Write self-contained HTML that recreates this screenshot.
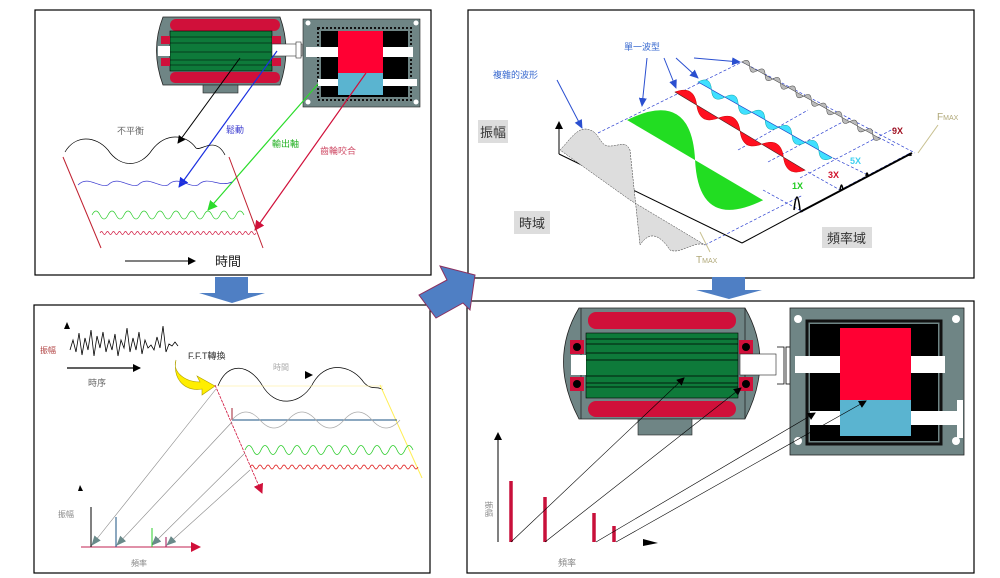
<!DOCTYPE html>
<html><head><meta charset="utf-8"><style>
html,body{margin:0;padding:0;background:#fff;}
svg{display:block;}
text{font-family:"Liberation Sans","Noto Sans CJK TC",sans-serif;}
</style></head><body>
<svg width="1000" height="578" viewBox="0 0 1000 578" xmlns="http://www.w3.org/2000/svg">
<defs>
<marker id="ak" markerWidth="8" markerHeight="8" refX="7" refY="4" orient="auto" markerUnits="userSpaceOnUse"><path d="M0,0 L8,4 L0,8z" fill="#000"/></marker>
<marker id="ab" markerWidth="10" markerHeight="10" refX="9" refY="5" orient="auto" markerUnits="userSpaceOnUse"><path d="M0,0 L10,5 L0,10z" fill="#1a2fe0"/></marker>
<marker id="ag" markerWidth="10" markerHeight="10" refX="9" refY="5" orient="auto" markerUnits="userSpaceOnUse"><path d="M0,0 L10,5 L0,10z" fill="#2bdc2b"/></marker>
<marker id="ar" markerWidth="10" markerHeight="10" refX="9" refY="5" orient="auto" markerUnits="userSpaceOnUse"><path d="M0,0 L10,5 L0,10z" fill="#d0103a"/></marker>
<marker id="agr" markerWidth="10" markerHeight="8" refX="9" refY="4" orient="auto" markerUnits="userSpaceOnUse"><path d="M0,0 L10,4 L0,8z" fill="#6a8a8a"/></marker>
<marker id="abl" markerWidth="9" markerHeight="8" refX="8" refY="4" orient="auto" markerUnits="userSpaceOnUse"><path d="M0,0 L9,4 L0,8z" fill="#2a4fd0"/></marker>
</defs>

<rect x="35" y="10" width="396" height="265" fill="#fff" stroke="#000" stroke-width="1.2"/>
<rect x="468" y="10" width="506" height="268" fill="#fff" stroke="#000" stroke-width="1.2"/>
<rect x="34" y="305" width="396" height="268" fill="#fff" stroke="#000" stroke-width="1.2"/>
<rect x="467" y="301" width="507" height="272" fill="#fff" stroke="#000" stroke-width="1.2"/>

<polygon points="215,277 248,277 248,293 265,293 232,303 199,293 215,293" fill="#4f7fc4"/>
<polygon points="712,277 745,277 745,290 762,290 729,299 696,290 712,290" fill="#4f7fc4"/>
<polygon points="440,266 475,275 470,310 463,303 436,318 419,295 447,280" fill="#4f7fc4" stroke="#8a3060" stroke-width="1"/>

<!-- ===== Panel 1 ===== -->
<g>
<path d="M163,17 L280,17 Q292,50 280,85 L163,85 Q150,50 163,17z" fill="#6f8585" stroke="#222" stroke-width="0.8"/>
<rect x="203" y="85" width="35" height="8" fill="#6f8585" stroke="#222" stroke-width="0.6"/>
<rect x="170" y="19" width="110" height="12" rx="6" fill="#d0103a"/>
<rect x="170" y="72" width="110" height="11" rx="5" fill="#d0103a"/>
<rect x="170" y="31" width="102" height="40" fill="#0e7a3a" stroke="#000" stroke-width="0.6"/>
<g stroke="#000" stroke-width="0.6"><line x1="170" y1="37" x2="272" y2="37"/><line x1="170" y1="43" x2="272" y2="43"/><line x1="170" y1="52" x2="272" y2="52"/><line x1="170" y1="60" x2="272" y2="60"/><line x1="170" y1="65" x2="272" y2="65"/></g>
<rect x="161" y="36" width="9" height="8" fill="#d0103a"/><rect x="161" y="58" width="9" height="8" fill="#d0103a"/>
<rect x="272" y="36" width="9" height="8" fill="#d0103a"/><rect x="272" y="58" width="9" height="8" fill="#d0103a"/>
<rect x="158" y="46" width="12" height="10" fill="#fff"/>
<rect x="272" y="44" width="30" height="12" fill="#fff" stroke="#333" stroke-width="0.6"/>
<rect x="296" y="42" width="5" height="16" fill="#fff" stroke="#333" stroke-width="0.6"/>
<rect x="303" y="19" width="117" height="88" fill="#6f8585" stroke="#222" stroke-width="0.6"/>
<rect x="318" y="28" width="93" height="72" fill="none" stroke="#111" stroke-width="2" stroke-dasharray="2,2"/>
<rect x="321" y="31" width="87" height="66" fill="#000"/>
<rect x="338" y="31" width="45" height="42" fill="#ff0033"/>
<rect x="338" y="73" width="45" height="22" fill="#5ab4d0"/>
<rect x="306" y="47" width="32" height="10" fill="#fff"/>
<rect x="383" y="47" width="30" height="10" fill="#fff"/>
<rect x="318" y="79" width="20" height="7" fill="#fff"/>
<rect x="383" y="79" width="34" height="7" fill="#fff"/>
<circle cx="308" cy="23" r="2.5" fill="#fff"/><circle cx="416" cy="23" r="2.5" fill="#fff"/><circle cx="308" cy="102" r="2.5" fill="#fff"/><circle cx="416" cy="102" r="2.5" fill="#fff"/>
</g>
<line x1="240" y1="58" x2="178" y2="143" stroke="#000" stroke-width="1" marker-end="url(#ak)"/>
<line x1="277" y1="51" x2="179" y2="187" stroke="#1a2fe0" stroke-width="1.2" marker-end="url(#ab)"/>
<line x1="318" y1="84" x2="208" y2="210" stroke="#2bdc2b" stroke-width="1.2" marker-end="url(#ag)"/>
<line x1="366" y1="73" x2="255" y2="230" stroke="#d0103a" stroke-width="1.2" marker-end="url(#ar)"/>
<text x="117" y="134" font-size="9" fill="#666">不平衡</text>
<text x="226" y="133" font-size="9" fill="#3b3bd0">鬆動</text>
<text x="272" y="147" font-size="9" fill="#22b022">輸出軸</text>
<text x="320" y="154" font-size="9" fill="#d0506a">齒輪咬合</text>
<path d="M65,152 C75,135 95,135 108,150 C120,168 140,168 152,150 C165,133 185,133 196,148 C200,152 215,135 225,155" fill="none" stroke="#000" stroke-width="0.7"/>
<path d="M78,185 C88,175 98,188 108,185 C118,175 128,188 138,185 C148,175 158,188 168,185 C178,175 188,188 198,185 C208,175 218,188 232,182" fill="none" stroke="#3b3bd0" stroke-width="0.7"/>
<path d="M92,215 q4,-8 8,0 q4,8 8,0 q4,-8 8,0 q4,8 8,0 q4,-8 8,0 q4,8 8,0 q4,-8 8,0 q4,8 8,0 q4,-8 8,0 q4,8 8,0 q4,-8 8,0 q4,8 8,0 q4,-8 8,0 q4,8 8,0 q4,-8 8,0 q4,8 8,0 q4,-8 8,0 q4,8 8,0 q4,-8 8,0" fill="none" stroke="#2bcc2b" stroke-width="0.7"/>
<path d="M100,233 q1.5,-3 3,0 q1.5,3 3,0 q1.5,-3 3,0 q1.5,3 3,0 q1.5,-3 3,0 q1.5,3 3,0 q1.5,-3 3,0 q1.5,3 3,0 q1.5,-3 3,0 q1.5,3 3,0 q1.5,-3 3,0 q1.5,3 3,0 q1.5,-3 3,0 q1.5,3 3,0 q1.5,-3 3,0 q1.5,3 3,0 q1.5,-3 3,0 q1.5,3 3,0 q1.5,-3 3,0 q1.5,3 3,0 q1.5,-3 3,0 q1.5,3 3,0 q1.5,-3 3,0 q1.5,3 3,0 q1.5,-3 3,0 q1.5,3 3,0 q1.5,-3 3,0 q1.5,3 3,0 q1.5,-3 3,0 q1.5,3 3,0 q1.5,-3 3,0 q1.5,3 3,0 q1.5,-3 3,0 q1.5,3 3,0 q1.5,-3 3,0 q1.5,3 3,0 q1.5,-3 3,0 q1.5,3 3,0 q1.5,-3 3,0 q1.5,3 3,0 q1.5,-3 3,0 q1.5,3 3,0 q1.5,-3 3,0 q1.5,3 3,0 q1.5,-3 3,0 q1.5,3 3,0 q1.5,-3 3,0 q1.5,3 3,0 q1.5,-3 3,0 q1.5,3 3,0 q1.5,-3 3,0 q1.5,3 3,0" fill="none" stroke="#d0103a" stroke-width="0.7"/>
<line x1="63" y1="157" x2="101" y2="248" stroke="#c02030" stroke-width="1"/>
<line x1="229" y1="157" x2="263" y2="248" stroke="#c02030" stroke-width="1"/>
<line x1="125" y1="261" x2="195" y2="261" stroke="#000" stroke-width="1" marker-end="url(#ak)"/>
<text x="215" y="266" font-size="13" fill="#222">時間</text>

<!-- ===== Panel 2 ===== -->
<rect x="478" y="120" width="30" height="23" fill="#ddd"/><text x="480" y="137" font-size="13" fill="#333">振幅</text>
<rect x="514" y="211" width="36" height="23" fill="#ddd"/><text x="519" y="228" font-size="13" fill="#333">時域</text>
<rect x="822" y="227" width="50" height="21" fill="#ddd"/><text x="827" y="243" font-size="13" fill="#333">頻率域</text>
<g stroke="#2a3fd0" stroke-width="0.7" stroke-dasharray="3,2" fill="none">
<line x1="598" y1="133" x2="742" y2="62"/>
<line x1="742" y1="62" x2="915" y2="153"/>
<line x1="763" y1="190" x2="803" y2="212"/>
<line x1="808" y1="172" x2="840" y2="190"/>
<line x1="833" y1="158" x2="868" y2="175"/>
<line x1="878" y1="137" x2="895" y2="146"/>
<line x1="705" y1="245" x2="803" y2="195"/>
<line x1="738" y1="150" x2="808" y2="110"/>
<line x1="768" y1="162" x2="850" y2="118"/>
<line x1="800" y1="178" x2="895" y2="128"/>
<line x1="840" y1="190" x2="910" y2="153"/>
</g>
<line x1="559" y1="154" x2="559" y2="122" stroke="#000" stroke-width="1" marker-end="url(#ak)"/>
<line x1="559" y1="154" x2="742" y2="243" stroke="#000" stroke-width="1"/>
<line x1="742" y1="243" x2="800" y2="212" stroke="#000" stroke-width="1"/>
<path d="M560,150 C570,140 578,125 590,130 C600,133 600,147 610,146 C620,146 625,140 630,150 L640,245 C650,230 660,235 670,250 C680,255 695,240 705,245 L630,200 L560,150z" fill="#ddd" stroke="#333" stroke-width="0.5" stroke-dasharray="2,1"/>
<!-- green -->
<g transform="translate(627,120) rotate(30.5)">
<path d="M0,0 q39.5,-60 79,0 q39.5,60 79,0 z" fill="#22dd22"/>
</g>
<!-- red -->
<g transform="translate(675,92) rotate(31)">
<path d="M0,0 q12.7,-16 25.3,0 q12.7,16 25.3,0 q12.7,-16 25.3,0 q12.7,16 25.3,0 q12.7,-16 25.3,0 q12.7,16 25.3,0 z" fill="#ff1020" stroke="#c00" stroke-width="0.5"/>
<line x1="0" y1="0" x2="152" y2="0" stroke="#333" stroke-width="0.5"/>
</g>
<!-- cyan -->
<g transform="translate(698,82) rotate(29.4)">
<path d="M0,0 q7.7,-12 15.4,0 q7.7,12 15.4,0 q7.7,-12 15.4,0 q7.7,12 15.4,0 q7.7,-12 15.4,0 q7.7,12 15.4,0 q7.7,-12 15.4,0 q7.7,12 15.4,0 q7.7,-12 15.4,0 q7.7,12 15.4,0 z" fill="#40e0ff" stroke="#1aa" stroke-width="0.5"/>
<line x1="0" y1="0" x2="154" y2="0" stroke="#2a3fd0" stroke-width="0.6"/>
</g>
<!-- gray -->
<g transform="translate(742,62) rotate(29)">
<path d="M0,0 q4.4,-8 8.8,0 q4.4,8 8.8,0 q4.4,-8 8.8,0 q4.4,8 8.8,0 q4.4,-8 8.8,0 q4.4,8 8.8,0 q4.4,-8 8.8,0 q4.4,8 8.8,0 q4.4,-8 8.8,0 q4.4,8 8.8,0 q4.4,-8 8.8,0 q4.4,8 8.8,0 q4.4,-8 8.8,0 q4.4,8 8.8,0 q4.4,-8 8.8,0 q4.4,8 8.8,0 q4.4,-8 8.8,0 q4.4,8 8.8,0 z" fill="#bbb" stroke="#444" stroke-width="0.5"/>
</g>
<path d="M800,212 L912,153" stroke="#000" stroke-width="2" fill="none"/>
<path d="M794,210 q3,-26 6,0" fill="none" stroke="#000" stroke-width="1.5"/>
<path d="M840,190 q1.5,-10 3,0" fill="none" stroke="#000" stroke-width="1.5"/>
<path d="M866,176 q1,-6 2,0" fill="none" stroke="#000" stroke-width="1.5"/>
<path d="M909,156 q1,-5 2,0" fill="none" stroke="#000" stroke-width="1.5"/>
<text x="493" y="78" font-size="9" fill="#3b6bd0">複雜的波形</text>
<text x="624" y="50" font-size="9" fill="#3b6bd0">單一波型</text>
<g stroke="#2a4fd0" stroke-width="1" fill="none">
<line x1="557" y1="80" x2="582" y2="128" marker-end="url(#abl)"/>
<line x1="647" y1="58" x2="642" y2="106" marker-end="url(#abl)"/>
<line x1="664" y1="58" x2="676" y2="88" marker-end="url(#abl)"/>
<line x1="676" y1="58" x2="698" y2="78" marker-end="url(#abl)"/>
<line x1="694" y1="58" x2="740" y2="62" marker-end="url(#abl)"/>
</g>
<line x1="700" y1="232" x2="710" y2="252" stroke="#c8c090" stroke-width="1"/>
<line x1="918" y1="153" x2="938" y2="125" stroke="#c8c090" stroke-width="1"/>
<text x="696" y="263" font-size="10" fill="#b0a878" font-family="Liberation Serif">T<tspan font-size="7">MAX</tspan></text>
<text x="937" y="120" font-size="10" fill="#b0a878" font-family="Liberation Serif">F<tspan font-size="7">MAX</tspan></text>
<text x="792" y="189" font-size="9" font-weight="bold" fill="#22cc22">1X</text>
<text x="828" y="178" font-size="9" font-weight="bold" fill="#d0102a">3X</text>
<text x="850" y="164" font-size="9" font-weight="bold" fill="#40d0f0">5X</text>
<text x="892" y="134" font-size="9" font-weight="bold" fill="#a01020">9X</text>

<!-- ===== Panel 3 ===== -->
<polyline points="70,350 73,340 76,352 79,333 82,355 85,338 88,350 91,330 94,356 97,336 100,348 103,332 106,352 109,340 112,350 115,334 118,356 121,340 124,348 127,328 130,352 133,338 136,350 139,332 142,354 145,340 148,348 151,345 154,350 157,337 160,348 163,326 166,352 169,344 172,346 175,342 178,346" fill="none" stroke="#000" stroke-width="0.8"/>
<polygon points="67,322 64,329 70,329" fill="#000"/>
<text x="40" y="353" font-size="8" fill="#b04040">振幅</text>
<line x1="67" y1="368" x2="140" y2="368" stroke="#000" stroke-width="1.2" marker-end="url(#ak)"/>
<text x="88" y="386" font-size="9" fill="#666">時序</text>
<text x="188" y="359" font-size="9" fill="#333">F.F.T轉換</text>
<path d="M176,360 C172,372 185,382 200,382 L197,376 L215,386 L202,395 L202,389 C188,392 172,382 176,360z" fill="#ffee00" stroke="#b0a000" stroke-width="0.6"/>
<path d="M218,386 C228,360 250,365 262,385 C275,408 300,405 312,385 C325,360 350,365 362,380 C370,392 378,385 383,390" fill="none" stroke="#000" stroke-width="0.7"/>
<line x1="380" y1="385" x2="422" y2="478" stroke="#ffee55" stroke-width="1"/>
<line x1="218" y1="386" x2="383" y2="386" stroke="#ffee88" stroke-width="0.6"/>
<text x="273" y="370" font-size="8" fill="#aaa">時間</text>
<line x1="305" y1="375" x2="312" y2="375" stroke="#000" stroke-width="1" marker-end="url(#ak)"/>
<line x1="232" y1="420" x2="397" y2="420" stroke="#1a5080" stroke-width="1"/>
<line x1="232" y1="408" x2="232" y2="420" stroke="#a02030" stroke-width="1"/>
<path d="M232,420 q14,-16 28,0 q14,16 28,0 q14,-16 28,0 q14,16 28,0 q14,-16 28,0 q14,16 28,0" fill="none" stroke="#aaa" stroke-width="0.7"/>
<path d="M245,450 q4,-9 8,0 q4,9 8,0 q4,-9 8,0 q4,9 8,0 q4,-9 8,0 q4,9 8,0 q4,-9 8,0 q4,9 8,0 q4,-9 8,0 q4,9 8,0 q4,-9 8,0 q4,9 8,0 q4,-9 8,0 q4,9 8,0 q4,-9 8,0 q4,9 8,0 q4,-9 8,0 q4,9 8,0 q4,-9 8,0 q4,9 8,0 q4,-9 8,0" fill="none" stroke="#2bcc2b" stroke-width="0.8"/>
<path d="M250,467 q2,-4 4,0 q2,4 4,0 q2,-4 4,0 q2,4 4,0 q2,-4 4,0 q2,4 4,0 q2,-4 4,0 q2,4 4,0 q2,-4 4,0 q2,4 4,0 q2,-4 4,0 q2,4 4,0 q2,-4 4,0 q2,4 4,0 q2,-4 4,0 q2,4 4,0 q2,-4 4,0 q2,4 4,0 q2,-4 4,0 q2,4 4,0 q2,-4 4,0 q2,4 4,0 q2,-4 4,0 q2,4 4,0 q2,-4 4,0 q2,4 4,0 q2,-4 4,0 q2,4 4,0 q2,-4 4,0 q2,4 4,0 q2,-4 4,0 q2,4 4,0 q2,-4 4,0 q2,4 4,0 q2,-4 4,0 q2,4 4,0 q2,-4 4,0 q2,4 4,0 q2,-4 4,0 q2,4 4,0 q2,-4 4,0 q2,4 4,0" fill="none" stroke="#e02020" stroke-width="0.8"/>
<line x1="215" y1="385" x2="262" y2="493" stroke="#d0103a" stroke-width="0.8" stroke-dasharray="3,1" marker-end="url(#ar)"/>
<g stroke="#888" stroke-width="0.6" fill="none">
<line x1="216" y1="389" x2="92" y2="545" marker-end="url(#agr)"/>
<line x1="232" y1="422" x2="117" y2="545" marker-end="url(#agr)"/>
<line x1="245" y1="453" x2="152" y2="545" marker-end="url(#agr)"/>
<line x1="250" y1="470" x2="167" y2="545" marker-end="url(#agr)"/>
</g>
<polygon points="80,485 78,491 83,491" fill="#000"/>
<line x1="81" y1="547" x2="200" y2="547" stroke="#c02050" stroke-width="1" marker-end="url(#ar)"/>
<line x1="91" y1="507" x2="91" y2="547" stroke="#000" stroke-width="1"/>
<line x1="116" y1="517" x2="116" y2="547" stroke="#1a5080" stroke-width="1"/>
<line x1="152" y1="528" x2="152" y2="547" stroke="#2bcc2b" stroke-width="1"/>
<line x1="166" y1="537" x2="166" y2="547" stroke="#a01050" stroke-width="1"/>
<text x="58" y="517" font-size="8" fill="#888">振幅</text>
<text x="131" y="566" font-size="8" fill="#888">頻率</text>

<!-- ===== Panel 4 ===== -->
<path d="M579,308 L745,308 Q775,360 745,419 L579,419 Q548,360 579,308z" fill="#6f8585" stroke="#222" stroke-width="0.8"/>
<rect x="638" y="419" width="54" height="16" fill="#6f8585" stroke="#222" stroke-width="0.6"/>
<line x1="581" y1="308" x2="581" y2="419" stroke="#222" stroke-width="0.8"/>
<line x1="745" y1="308" x2="745" y2="419" stroke="#222" stroke-width="0.8"/>
<rect x="588" y="312" width="148" height="17" rx="8" fill="#d0103a"/>
<rect x="588" y="401" width="148" height="16" rx="8" fill="#d0103a"/>
<rect x="586" y="333" width="152" height="65" fill="#0e7a3a" stroke="#000" stroke-width="0.6"/>
<g stroke="#000" stroke-width="0.7"><line x1="586" y1="339" x2="738" y2="339"/><line x1="586" y1="344" x2="738" y2="344"/><line x1="586" y1="353" x2="738" y2="353"/><line x1="586" y1="360" x2="738" y2="360"/><line x1="586" y1="376" x2="738" y2="376"/><line x1="586" y1="383" x2="738" y2="383"/><line x1="586" y1="387" x2="738" y2="387"/></g>
<rect x="570" y="340" width="14" height="14" fill="#d0103a"/><rect x="570" y="377" width="14" height="14" fill="#d0103a"/>
<circle cx="577" cy="347" r="4" fill="#000"/><circle cx="577" cy="384" r="4" fill="#000"/>
<rect x="739" y="340" width="14" height="14" fill="#d0103a"/><rect x="739" y="377" width="14" height="14" fill="#d0103a"/>
<circle cx="746" cy="347" r="4" fill="#000"/><circle cx="746" cy="384" r="4" fill="#000"/>
<rect x="571" y="355" width="15" height="20" fill="#fff"/>
<rect x="740" y="354" width="36" height="21" fill="#fff" stroke="#222" stroke-width="0.6"/>
<path d="M777,347 h7 v37 h-7" fill="none" stroke="#000" stroke-width="0.8"/>
<rect x="786" y="347" width="7" height="37" fill="#fff" stroke="#000" stroke-width="0.8"/>
<rect x="790" y="308" width="174" height="147" fill="#6f8585" stroke="#222" stroke-width="0.8"/>
<rect x="807" y="321" width="134" height="123" fill="none" stroke="#111" stroke-width="3"/>
<rect x="810" y="324" width="128" height="117" fill="#000"/>
<rect x="840" y="328" width="71" height="72" fill="#ff0033"/>
<rect x="840" y="400" width="71" height="36" fill="#5ab4d0"/>
<rect x="795" y="356" width="45" height="17" fill="#fff"/>
<rect x="911" y="356" width="34" height="17" fill="#fff"/>
<rect x="810" y="411" width="30" height="14" fill="#fff"/>
<rect x="911" y="411" width="47" height="14" fill="#fff"/>
<rect x="957" y="400" width="6" height="38" fill="#fff"/>
<circle cx="798" cy="319" r="4" fill="#fff"/><circle cx="956" cy="319" r="4" fill="#fff"/><circle cx="798" cy="441" r="4" fill="#fff"/><circle cx="956" cy="441" r="4" fill="#fff"/>
<line x1="498" y1="542" x2="498" y2="433" stroke="#000" stroke-width="1" marker-end="url(#ak)"/>
<g stroke="#c8103a" stroke-width="3.5"><line x1="511" y1="481" x2="511" y2="542"/><line x1="545" y1="497" x2="545" y2="542"/><line x1="594" y1="513" x2="594" y2="542"/><line x1="614" y1="526" x2="614" y2="542"/></g>
<polygon points="643,539 658,543 643,546" fill="#000"/>
<g stroke="#000" stroke-width="0.6" fill="none">
<line x1="511" y1="542" x2="684" y2="378" marker-end="url(#ak)"/>
<line x1="545" y1="542" x2="741" y2="388" marker-end="url(#ak)"/>
<line x1="596" y1="542" x2="815" y2="413" marker-end="url(#ak)"/>
<line x1="616" y1="542" x2="866" y2="401" marker-end="url(#ak)"/>
</g>
<text x="477" y="500" font-size="8" fill="#888" transform="rotate(90 481 505)">振幅</text>
<text x="558" y="566" font-size="9" fill="#888">頻率</text>
</svg>
</body></html>
